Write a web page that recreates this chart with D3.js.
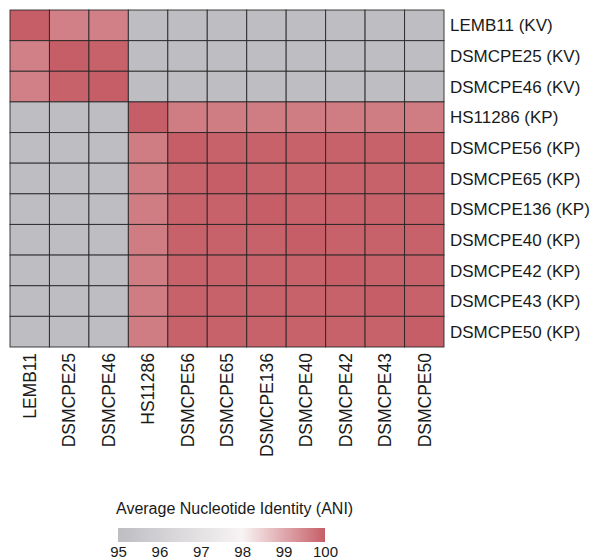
<!DOCTYPE html>
<html>
<head>
<meta charset="utf-8">
<script src="https://cdn.jsdelivr.net/npm/d3@7"></script>
<style>
  body { margin: 0; background: #fff; }
  text { font-family: "Liberation Sans", Arial, sans-serif; fill: #1a1a1a; }
</style>
</head>
<body>
<div id="chart"></div>
<script>
// strains, in heatmap order
var strains = ["LEMB11", "DSMCPE25", "DSMCPE46", "HS11286", "DSMCPE56", "DSMCPE65",
               "DSMCPE136", "DSMCPE40", "DSMCPE42", "DSMCPE43", "DSMCPE50"];
var species = ["KV", "KV", "KV", "KP", "KP", "KP", "KP", "KP", "KP", "KP", "KP"];

// pairwise ANI (%), rows follow strains
var aniRows = [
  [100.0, 99.55, 99.55, 93.4, 93.4, 93.4, 93.4, 93.4, 93.4, 93.4, 93.4],
  [99.55, 100.0, 99.95, 93.4, 93.4, 93.4, 93.4, 93.4, 93.4, 93.4, 93.4],
  [99.55, 99.95, 100.0, 93.4, 93.4, 93.4, 93.4, 93.4, 93.4, 93.4, 93.4],
  [93.4, 93.4, 93.4, 100.0, 99.6, 99.6, 99.6, 99.6, 99.6, 99.6, 99.6],
  [93.4, 93.4, 93.4, 99.6, 100.0, 99.95, 99.95, 99.95, 99.95, 99.95, 99.95],
  [93.4, 93.4, 93.4, 99.6, 99.95, 100.0, 99.95, 99.95, 99.95, 99.95, 99.95],
  [93.4, 93.4, 93.4, 99.6, 99.95, 99.95, 100.0, 99.95, 99.95, 99.95, 99.95],
  [93.4, 93.4, 93.4, 99.6, 99.95, 99.95, 99.95, 100.0, 99.95, 99.95, 99.95],
  [93.4, 93.4, 93.4, 99.6, 99.95, 99.95, 99.95, 99.95, 100.0, 99.95, 99.95],
  [93.4, 93.4, 93.4, 99.6, 99.95, 99.95, 99.95, 99.95, 99.95, 100.0, 99.95],
  [93.4, 93.4, 93.4, 99.6, 99.95, 99.95, 99.95, 99.95, 99.95, 99.95, 100.0]
];

var legendTicks = [95, 96, 97, 98, 99, 100];
var legendTitle = "Average Nucleotide Identity (ANI)";

var width = 594, height = 559;
var grid = {left: 10, top: 10, right: 444, bottom: 347};

var svg = d3.select("#chart").append("svg")
    .attr("width", width)
    .attr("height", height);

var x = d3.scaleBand().domain(strains).range([grid.left, grid.right]);
var y = d3.scaleBand().domain(strains).range([grid.top, grid.bottom]);

var color = d3.scaleLinear()
    .domain([95, 98, 100])
    .range(["#bdbdc2", "#f8f4f4", "#c65e67"])
    .clamp(true);

var cells = [];
aniRows.forEach(function(row, i) {
  row.forEach(function(v, j) {
    cells.push({row: strains[i], col: strains[j], value: v});
  });
});

svg.append("g").attr("class", "cells")
  .selectAll("rect")
  .data(cells)
  .enter().append("rect")
    .attr("x", function(d) { return x(d.col); })
    .attr("y", function(d) { return y(d.row); })
    .attr("width", x.bandwidth())
    .attr("height", y.bandwidth())
    .attr("fill", function(d) { return color(d.value); })
    .attr("stroke", "#222")
    .attr("stroke-width", 1)
    .attr("stroke-opacity", 0.85);

// row labels on the right
svg.append("g").attr("class", "rowLabels")
  .selectAll("text")
  .data(strains)
  .enter().append("text")
    .attr("x", grid.right + 6)
    .attr("y", function(d) { return y(d) + y.bandwidth() / 2; })
    .attr("dy", "0.36em")
    .style("font-size", "17px")
    .text(function(d, i) { return d + " (" + species[i] + ")"; });

// column labels, rotated
svg.append("g").attr("class", "colLabels")
  .selectAll("text")
  .data(strains)
  .enter().append("text")
    .attr("transform", function(d) {
      return "translate(" + (x(d) + x.bandwidth() / 2) + "," + (grid.bottom + 6) + ") rotate(-90)";
    })
    .attr("text-anchor", "end")
    .attr("dy", "0.36em")
    .style("font-size", "17.5px")
    .text(function(d) { return d; });

// colour legend
var legX = d3.scaleLinear().domain([95, 100]).range([118, 325]);
var grad = svg.append("defs").append("linearGradient")
    .attr("id", "aniGrad")
    .attr("x1", "0%").attr("x2", "100%");
d3.range(95, 100.01, 0.25).forEach(function(v) {
  grad.append("stop")
    .attr("offset", ((v - 95) / 5 * 100) + "%")
    .attr("stop-color", color(v));
});

svg.append("text")
    .attr("x", 116)
    .attr("y", 514)
    .style("font-size", "16px")
    .text(legendTitle);

svg.append("rect")
    .attr("x", legX(95))
    .attr("y", 528)
    .attr("width", legX(100) - legX(95))
    .attr("height", 14)
    .attr("fill", "url(#aniGrad)");

var legAxis = d3.axisBottom(legX)
    .tickValues(legendTicks)
    .tickFormat(d3.format("d"))
    .tickSize(0)
    .tickPadding(4);
var axG = svg.append("g")
    .attr("transform", "translate(0,542)")
    .call(legAxis);
axG.select(".domain").remove();
axG.selectAll("text")
    .style("font-size", "15px")
    .style("font-family", "'Liberation Sans', Arial, sans-serif")
    .attr("fill", "#1a1a1a");
</script>
</body>
</html>
